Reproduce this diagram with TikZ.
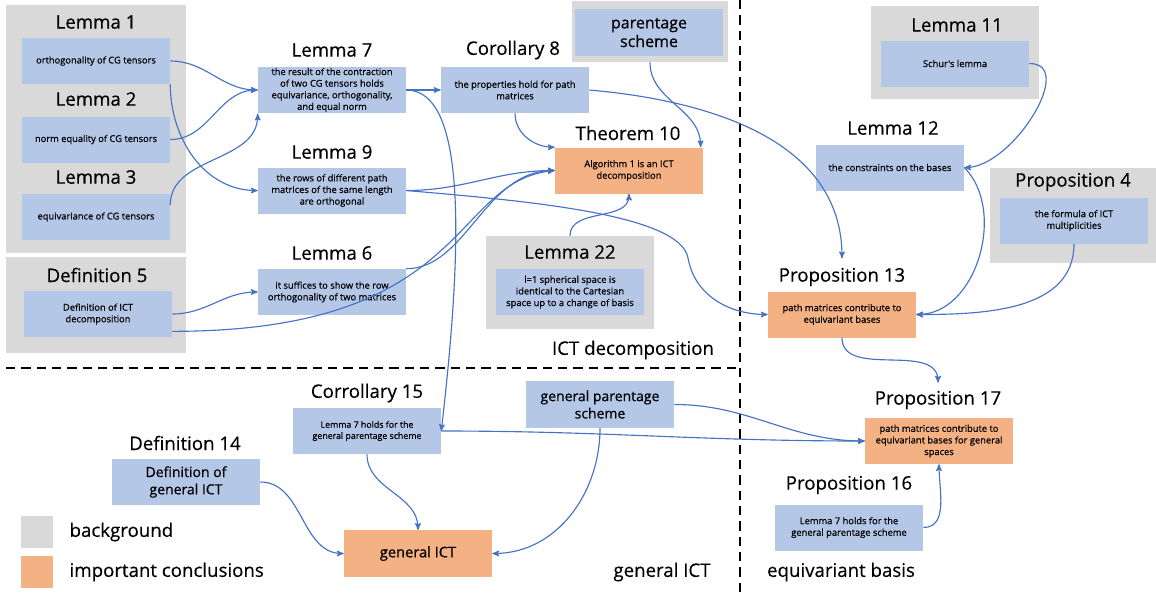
\documentclass[tikz,border=0pt]{standalone}
\usepackage{fontspec}
\setmainfont{Open Sans}
\newfontfamily\boxfont{Open Sans}[FakeBold=0.6]
\newfontfamily\headfont{Open Sans}[FakeBold=0.3]
\usepackage{xcolor}
\usepackage{tikz}
\usetikzlibrary{arrows,positioning,fit,backgrounds}
\definecolor{boxblue}{HTML}{B4C7E7}
\definecolor{concl}{HTML}{F4B183}
\definecolor{bggray}{HTML}{D9D9D9}
\definecolor{linkblue}{HTML}{4472C4}

\begin{document}
\begin{tikzpicture}[x=0.75pt, y=-0.75pt,
    res/.style = {fill=boxblue, align=center, inner sep=1pt,
      minimum width=111pt, minimum height=34.5pt,
      font=\boxfont\fontsize{7}{8.7}\selectfont},
    imp/.style = {res, fill=concl},
    grp/.style = {fill=bggray, inner sep=0pt},
    key/.style = {minimum width=24pt, minimum height=24pt, inner sep=0pt},
    ttl/.style = {font=\headfont\fontsize{14}{16}\selectfont, inner sep=1pt},
    post/.style={->, >=stealth', line width=0.85pt, draw=linkblue},
    sep/.style={dash pattern=on 7pt off 4.5pt, line width=1.5pt}]

  \useasboundingbox (0,0) rectangle (1156,594);

  % background groups
  \node[grp, fit={(6,5) (186,253)}] (bg13) {};
  \node[grp, fit={(6,257) (186,353)}] (bg5) {};
  \node[grp, fit={(572,1) (728,62)}] (bgps) {};
  \node[grp, fit={(486,236) (654,329)}] (bg22) {};
  \node[grp, fit={(871,6) (1039,99)}] (bg11) {};
  \node[grp, fit={(990,168) (1156,263)}] (bg4) {};

  % region borders
  \draw[sep] (740,0) -- (740,594);
  \draw[sep] (6,368) -- (740,368);

  % ICT decomposition
  \node[ttl] (t1) at (96,22) {Lemma 1};
  \node[res] (l1) at (96,61) {orthogonality of CG tensors};
  \node[ttl] (t2) at (96,99) {Lemma 2};
  \node[res] (l2) at (96,139.5) {norm equality of CG tensors};
  \node[ttl] (t3) at (96,177) {Lemma 3};
  \node[res] (l3) at (96,217) {equivariance of CG tensors};
  \node[ttl] (t5) at (97,275) {Definition 5};
  \node[res] (d5) at (98,314) {Definition of ICT\\decomposition};

  \node[ttl] (t7) at (332,50) {Lemma 7};
  \node[res] (l7) at (332,90) {the result of the contraction\\of two CG tensors holds\\equivariance, orthogonality,\\and equal norm};
  \node[ttl] (t9) at (332,152) {Lemma 9};
  \node[res] (l9) at (332,190.5) {the rows of different path\\matrices of the same length\\are orthogonal};
  \node[ttl] (t6) at (332,253) {Lemma 6};
  \node[res] (l6) at (332,292) {it suffices to show the row\\orthogonality of two matrices};

  \node[ttl] (t8) at (513,50) {Corollary 8};
  \node[res] (c8) at (515,90) {the properties hold for path\\matrices};
  \node[res, minimum height=35pt, font=\boxfont\fontsize{12}{14}\selectfont] (ps) at (649,32.5) {parentage\\scheme};
  \node[ttl] (t10) at (628,133) {Theorem 10};
  \node[imp] (th10) at (629,170.5) {Algorithm 1 is an ICT\\decomposition};
  \node[ttl] (t22) at (570,252) {Lemma 22};
  \node[res] (l22) at (570,292) {l=1 spherical space is\\identical to the Cartesian\\space up to a change of basis};
  \node[ttl] (rg1) at (633,350) {ICT decomposition};

  % equivariant basis
  \node[ttl] (t11) at (957,25) {Lemma 11};
  \node[res] (l11) at (955,63.5) {Schur's lemma};
  \node[ttl] (t12) at (893,128) {Lemma 12};
  \node[res] (l12) at (890,167.5) {the constraints on the bases};
  \node[ttl] (t4) at (1073,182) {Proposition 4};
  \node[res] (p4) at (1074,220.5) {the formula of ICT\\multiplicities};
  \node[ttl] (t13) at (842,277) {Proposition 13};
  \node[imp] (p13) at (842,314.5) {path matrices contribute to\\equivariant bases};
  \node[ttl] (t17) at (938,400) {Proposition 17};
  \node[imp] (p17) at (939,441) {path matrices contribute to\\equivariant bases for general\\spaces};
  \node[ttl] (t16) at (849,485) {Proposition 16};
  \node[res] (p16) at (849,527.5) {Lemma 7 holds for the\\general parentage scheme};
  \node[ttl] (rg3) at (841,572) {equivariant basis};

  % general ICT
  \node[ttl] (t15) at (367,393) {Corrollary 15};
  \node[res, font=\boxfont\fontsize{6.6}{8.4}\selectfont] (c15) at (367,431) {Lemma 7 holds for the\\general parentage scheme};
  \node[res, minimum height=35pt, font=\boxfont\fontsize{10.5}{13}\selectfont] (gen) at (600,404.5) {general parentage\\scheme};
  \node[ttl] (t14) at (185,443) {Definition 14};
  \node[res, font=\boxfont\fontsize{10.5}{13}\selectfont] (d14) at (186,482) {Definition of\\general ICT};
  \node[imp, minimum height=35pt, font=\boxfont\fontsize{11}{13}\selectfont] (gi) at (418,553.5) {general ICT};
  \node[ttl] (rg2) at (662,572) {general ICT};

  % legend
  \node[key, fill=bggray] (kbg) at (37,532) {};
  \node[ttl, anchor=west] (kbgtxt) at (68,532) {background};
  \node[key, fill=concl] (kimp) at (37,572) {};
  \node[ttl, anchor=west] (kimptxt) at (68,572) {important conclusions};

  % dependencies
  \draw[post] (l1.east) to[out=0,in=180] (l7.west);
  \draw[post] (l2.east) to[out=0,in=180] (l7.west);
  \draw[post] ([yshift=9pt]l3.east) to[out=90,in=-90] (l7.south west);
  \draw[post] (l1.south east) to[out=-90,in=180] (l9.west);
  \draw[post] (d5.east) to[out=0,in=180] (l6.west);
  \draw[post] ([yshift=-13pt]d5.east) .. controls +(300,0) and +(-105,10) .. (th10.west);
  \draw[post] (l6.north east) .. controls +(60,0) and +(-70,0) .. (th10.west);
  \draw[post] (l9.east) to[out=0,in=180] (th10.west);
  \coordinate (w9) at (688,258);
  \draw[post] (l9.east) to[out=-5,in=100,in looseness=0.4] (w9)
    to[out=-80,in=180] (p13.west);
  \draw[post] (l7.east) -- (c8.west);
  \draw[post] (l7.east) .. controls +(60,0) and +(22,-190) .. (c15.east);
  \draw[post] (c8.south) to[out=-90,in=180] (th10.north west);
  \draw[post] (c8.east) to[out=-5,in=90] ([yshift=6pt]t13.north);
  \draw[post] (bgps.south) to[out=-90,in=90] ([xshift=-2pt]th10.north east);
  \draw[post] (bg22.north) to[out=90,in=-90] (th10.south);

  \draw[post] (l11.east) to[out=0,in=0] (l12.east);
  \draw[post] (l12.east) to[out=-45,in=0] (p13.east);
  \draw[post] (p4.south) to[out=-90,in=0] (p13.east);
  \draw[post] (p13.south) to[out=-90,in=90] ([yshift=5pt]t17.north);
  \draw[post] (c15.east) to[out=0,in=180] (p17.west);
  \draw[post] (gen.east) to[out=0,in=180] (p17.west);
  \draw[post] (p16.east) to[out=0,in=-90] (p17.south);

  \draw[post] (gen.south) to[out=-90,in=0] (gi.east);
  \draw[post] (c15.south) to[out=-90,in=90] (gi.north);
  \draw[post] (d14.east) to[out=0,in=180] (gi.west);
\end{tikzpicture}
\end{document}
